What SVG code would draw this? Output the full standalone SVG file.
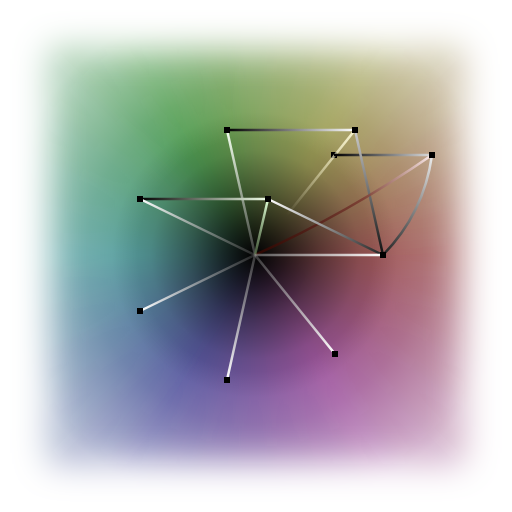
<svg xmlns="http://www.w3.org/2000/svg" width="512" height="512" viewBox="0 0 512 512">
<defs>
<style>
.edge{fill:none;stroke-width:2.5;stroke-linecap:butt}
.node{fill:#000}
.w path{stroke:none}
</style>
<filter id="wblur" filterUnits="userSpaceOnUse" x="-60" y="-60" width="632" height="632"><feGaussianBlur stdDeviation="10"/></filter>
<filter id="mblur" filterUnits="userSpaceOnUse" x="-20" y="-20" width="552" height="552"><feGaussianBlur stdDeviation="17"/></filter>
<mask id="sq" maskUnits="userSpaceOnUse" x="0" y="0" width="512" height="512">
<rect x="48" y="48" width="416" height="416" fill="#fff" filter="url(#mblur)"/>
</mask>
<radialGradient id="dark" gradientUnits="userSpaceOnUse" cx="255" cy="255" r="260">
<stop offset="0" stop-color="#000" stop-opacity="1"/>
<stop offset="0.12" stop-color="#000" stop-opacity="0.75"/>
<stop offset="0.25" stop-color="#000" stop-opacity="0.45"/>
<stop offset="0.4" stop-color="#000" stop-opacity="0.15"/>
<stop offset="0.55" stop-color="#000" stop-opacity="0"/>
</radialGradient>
<radialGradient id="light" gradientUnits="userSpaceOnUse" cx="255" cy="255" r="260">
<stop offset="0.45" stop-color="#fff" stop-opacity="0"/>
<stop offset="0.65" stop-color="#fff" stop-opacity="0.15"/>
<stop offset="1" stop-color="#fff" stop-opacity="0.55"/>
</radialGradient>
<linearGradient id="gCA" gradientUnits="userSpaceOnUse" x1="255" y1="255" x2="227" y2="130"><stop offset="0" stop-color="#999" stop-opacity="0.35"/><stop offset="1" stop-color="#f4fff0"/></linearGradient>
<linearGradient id="gAB" gradientUnits="userSpaceOnUse" x1="227" y1="130" x2="355" y2="130"><stop offset="0" stop-color="#000"/><stop offset="1" stop-color="#fff"/></linearGradient>
<linearGradient id="gBC" gradientUnits="userSpaceOnUse" x1="355" y1="130" x2="255" y2="255"><stop offset="0" stop-color="#f8f4d0"/><stop offset="0.68" stop-color="#f8f4d0" stop-opacity="0"/></linearGradient>
<linearGradient id="gED" gradientUnits="userSpaceOnUse" x1="334" y1="155" x2="432" y2="155"><stop offset="0" stop-color="#000"/><stop offset="1" stop-color="#ddd"/></linearGradient>
<linearGradient id="gBH" gradientUnits="userSpaceOnUse" x1="355" y1="130" x2="383" y2="255"><stop offset="0" stop-color="#ccc"/><stop offset="1" stop-color="#111"/></linearGradient>
<linearGradient id="gDH" gradientUnits="userSpaceOnUse" x1="432" y1="155" x2="383" y2="255"><stop offset="0" stop-color="#eee"/><stop offset="1" stop-color="#222"/></linearGradient>
<linearGradient id="gCD" gradientUnits="userSpaceOnUse" x1="255" y1="255" x2="432" y2="155"><stop offset="0" stop-color="#2a0500"/><stop offset="0.6" stop-color="#7a3a30" stop-opacity="0.85"/><stop offset="1" stop-color="#fbeaea"/></linearGradient>
<linearGradient id="gCG" gradientUnits="userSpaceOnUse" x1="255" y1="255" x2="268" y2="199"><stop offset="0" stop-color="#6a8a5a" stop-opacity="0.6"/><stop offset="1" stop-color="#e0ffd8"/></linearGradient>
<linearGradient id="gFG" gradientUnits="userSpaceOnUse" x1="140" y1="199" x2="268" y2="199"><stop offset="0" stop-color="#000"/><stop offset="1" stop-color="#f0ffe8"/></linearGradient>
<linearGradient id="gCF" gradientUnits="userSpaceOnUse" x1="255" y1="255" x2="140" y2="199"><stop offset="0" stop-color="#777" stop-opacity="0.3"/><stop offset="1" stop-color="#fff"/></linearGradient>
<linearGradient id="gGH" gradientUnits="userSpaceOnUse" x1="268" y1="199" x2="383" y2="255"><stop offset="0" stop-color="#fff"/><stop offset="1" stop-color="#222"/></linearGradient>
<linearGradient id="gCH" gradientUnits="userSpaceOnUse" x1="255" y1="255" x2="383" y2="255"><stop offset="0" stop-color="#aaa" stop-opacity="0.5"/><stop offset="1" stop-color="#fff"/></linearGradient>
<linearGradient id="gCI" gradientUnits="userSpaceOnUse" x1="255" y1="255" x2="140" y2="311"><stop offset="0" stop-color="#777" stop-opacity="0.3"/><stop offset="1" stop-color="#fff"/></linearGradient>
<linearGradient id="gCJ" gradientUnits="userSpaceOnUse" x1="255" y1="255" x2="227" y2="380"><stop offset="0" stop-color="#888" stop-opacity="0.4"/><stop offset="1" stop-color="#fff"/></linearGradient>
<linearGradient id="gCK" gradientUnits="userSpaceOnUse" x1="255" y1="255" x2="335" y2="354"><stop offset="0" stop-color="#888" stop-opacity="0.4"/><stop offset="1" stop-color="#fff"/></linearGradient>
</defs>
<rect width="512" height="512" fill="#fff"/>
<g id="background" mask="url(#sq)">
<g filter="url(#wblur)">
<g class="w" transform="translate(255,255)">
<path d="M0 0L398.5 -34.9L398.5 34.9Z" fill="hsl(0,30%,48%)"/>
<path d="M0 0L398.5 34.9L386.4 103.5Z" fill="hsl(350,30%,48%)"/>
<path d="M0 0L386.4 103.5L362.5 169Z" fill="hsl(340,30%,48%)"/>
<path d="M0 0L362.5 169L327.7 229.4Z" fill="hsl(330,30%,48%)"/>
<path d="M0 0L327.7 229.4L282.8 282.8Z" fill="hsl(320,30%,48%)"/>
<path d="M0 0L282.8 282.8L229.4 327.7Z" fill="hsl(310,30%,48%)"/>
<path d="M0 0L229.4 327.7L169 362.5Z" fill="hsl(300,30%,48%)"/>
<path d="M0 0L169 362.5L103.5 386.4Z" fill="hsl(290,30%,48%)"/>
<path d="M0 0L103.5 386.4L34.9 398.5Z" fill="hsl(280,30%,48%)"/>
<path d="M0 0L34.9 398.5L-34.9 398.5Z" fill="hsl(270,30%,48%)"/>
<path d="M0 0L-34.9 398.5L-103.5 386.4Z" fill="hsl(260,30%,48%)"/>
<path d="M0 0L-103.5 386.4L-169 362.5Z" fill="hsl(250,30%,48%)"/>
<path d="M0 0L-169 362.5L-229.4 327.7Z" fill="hsl(240,30%,48%)"/>
<path d="M0 0L-229.4 327.7L-282.8 282.8Z" fill="hsl(230,30%,48%)"/>
<path d="M0 0L-282.8 282.8L-327.7 229.4Z" fill="hsl(220,30%,48%)"/>
<path d="M0 0L-327.7 229.4L-362.5 169Z" fill="hsl(210,30%,48%)"/>
<path d="M0 0L-362.5 169L-386.4 103.5Z" fill="hsl(200,30%,48%)"/>
<path d="M0 0L-386.4 103.5L-398.5 34.9Z" fill="hsl(190,30%,48%)"/>
<path d="M0 0L-398.5 34.9L-398.5 -34.9Z" fill="hsl(180,30%,48%)"/>
<path d="M0 0L-398.5 -34.9L-386.4 -103.5Z" fill="hsl(170,30%,48%)"/>
<path d="M0 0L-386.4 -103.5L-362.5 -169Z" fill="hsl(160,30%,48%)"/>
<path d="M0 0L-362.5 -169L-327.7 -229.4Z" fill="hsl(150,30%,48%)"/>
<path d="M0 0L-327.7 -229.4L-282.8 -282.8Z" fill="hsl(140,30%,48%)"/>
<path d="M0 0L-282.8 -282.8L-229.4 -327.7Z" fill="hsl(130,32%,46%)"/>
<path d="M0 0L-229.4 -327.7L-169 -362.5Z" fill="hsl(120,32%,46%)"/>
<path d="M0 0L-169 -362.5L-103.5 -386.4Z" fill="hsl(110,32%,46%)"/>
<path d="M0 0L-103.5 -386.4L-34.9 -398.5Z" fill="hsl(100,32%,46%)"/>
<path d="M0 0L-34.9 -398.5L34.9 -398.5Z" fill="hsl(90,30%,48%)"/>
<path d="M0 0L34.9 -398.5L103.5 -386.4Z" fill="hsl(80,30%,48%)"/>
<path d="M0 0L103.5 -386.4L169 -362.5Z" fill="hsl(70,30%,48%)"/>
<path d="M0 0L169 -362.5L229.4 -327.7Z" fill="hsl(60,30%,48%)"/>
<path d="M0 0L229.4 -327.7L282.8 -282.8Z" fill="hsl(50,30%,48%)"/>
<path d="M0 0L282.8 -282.8L327.7 -229.4Z" fill="hsl(40,30%,48%)"/>
<path d="M0 0L327.7 -229.4L362.5 -169Z" fill="hsl(30,30%,48%)"/>
<path d="M0 0L362.5 -169L386.4 -103.5Z" fill="hsl(20,30%,48%)"/>
<path d="M0 0L386.4 -103.5L398.5 -34.9Z" fill="hsl(10,30%,48%)"/>
</g>
</g>
<rect width="512" height="512" fill="url(#dark)"/>
<rect width="512" height="512" fill="url(#light)"/>
</g>
<g id="node-E"><rect class="node" x="331" y="152" width="6" height="6"/></g>
<g id="connectors">
<line class="edge" x1="255" y1="255" x2="227" y2="130" stroke="url(#gCA)"/>
<line class="edge" x1="227" y1="130" x2="355" y2="130" stroke="url(#gAB)"/>
<line class="edge" x1="355" y1="130" x2="255" y2="255" stroke="url(#gBC)"/>
<line class="edge" x1="334" y1="155" x2="432" y2="155" stroke="url(#gED)"/>
<line class="edge" x1="355" y1="130" x2="383" y2="255" stroke="url(#gBH)"/>
<path class="edge" d="M432 155Q424 213 383 255" stroke="url(#gDH)"/>
<path class="edge" d="M255 255Q348 213 432 155" stroke="url(#gCD)"/>
<line class="edge" x1="255" y1="255" x2="268" y2="199" stroke="url(#gCG)"/>
<line class="edge" x1="140" y1="199" x2="268" y2="199" stroke="url(#gFG)"/>
<line class="edge" x1="255" y1="255" x2="140" y2="199" stroke="url(#gCF)"/>
<line class="edge" x1="268" y1="199" x2="383" y2="255" stroke="url(#gGH)"/>
<line class="edge" x1="255" y1="255" x2="383" y2="255" stroke="url(#gCH)"/>
<line class="edge" x1="255" y1="255" x2="140" y2="311" stroke="url(#gCI)"/>
<line class="edge" x1="255" y1="255" x2="227" y2="380" stroke="url(#gCJ)"/>
<line class="edge" x1="255" y1="255" x2="335" y2="354" stroke="url(#gCK)"/>
</g>
<g id="node-A"><rect class="node" x="224" y="127" width="6" height="6"/></g>
<g id="node-B"><rect class="node" x="352" y="127" width="6" height="6"/></g>
<g id="node-D"><rect class="node" x="429" y="152" width="6" height="6"/></g>
<g id="node-F"><rect class="node" x="137" y="196" width="6" height="6"/></g>
<g id="node-G"><rect class="node" x="265" y="196" width="6" height="6"/></g>
<g id="node-H"><rect class="node" x="380" y="252" width="6" height="6"/></g>
<g id="node-I"><rect class="node" x="137" y="308" width="6" height="6"/></g>
<g id="node-J"><rect class="node" x="224" y="377" width="6" height="6"/></g>
<g id="node-K"><rect class="node" x="332" y="351" width="6" height="6"/></g>
</svg>
